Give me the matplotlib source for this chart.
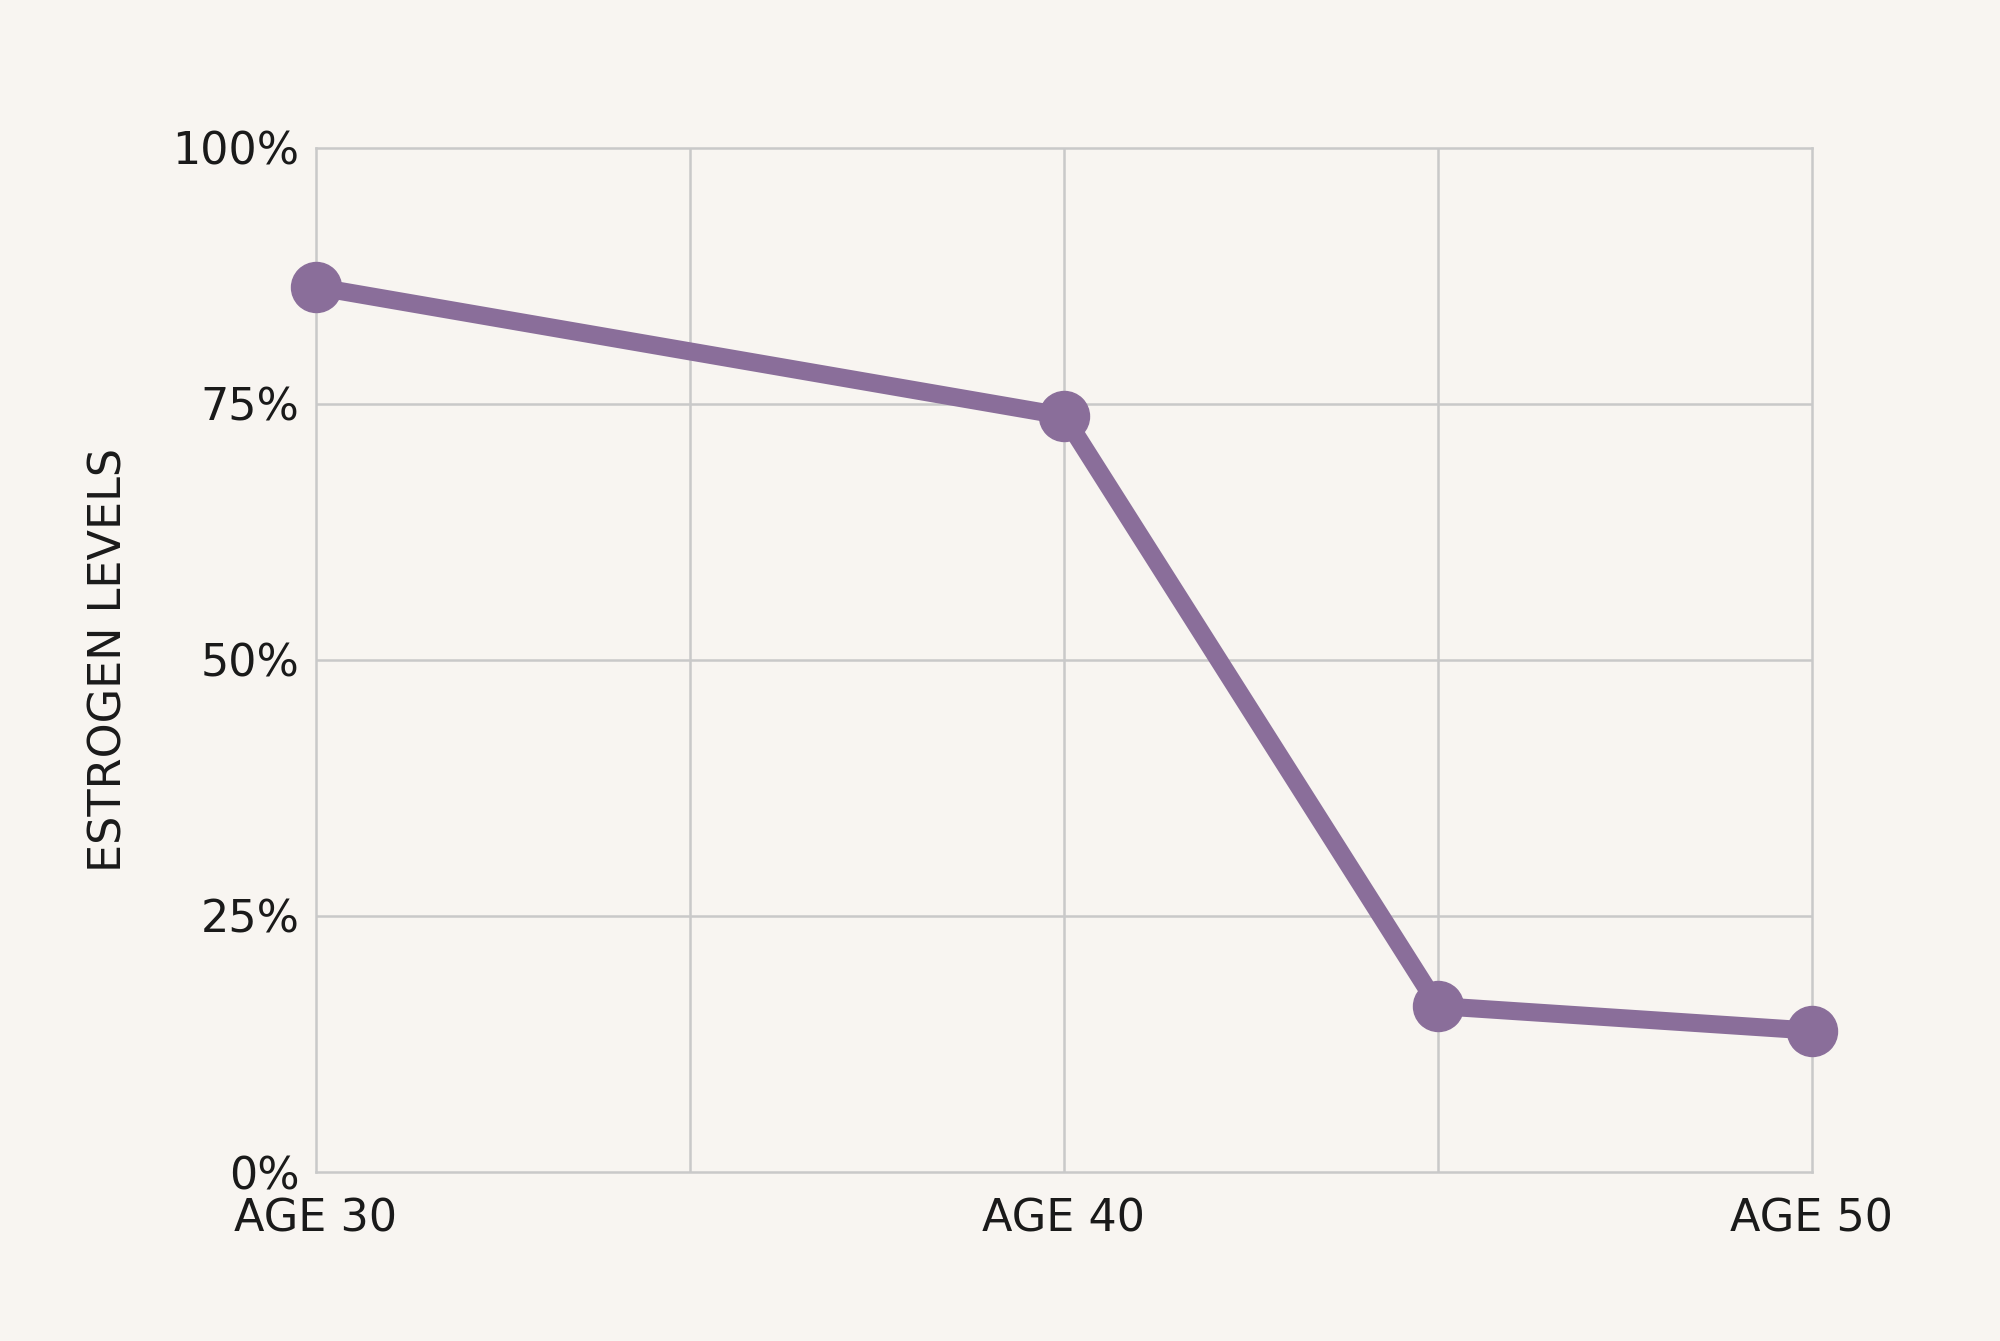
import matplotlib.pyplot as plt

# ---------------- data ----------------
ages = [30, 40, 45, 50]
estrogen = [86.4, 73.8, 16.2, 13.8]
x_ticks = [30, 40, 50]
x_labels = ['AGE 30', 'AGE 40', 'AGE 50']
y_ticks = [0, 25, 50, 75, 100]
y_labels = ['0%', '25%', '50%', '75%', '100%']
grid_x = [35, 40, 45]

bg = '#f8f5f1'
purple = '#8a6e9a'
grid_c = '#c9c9c9'
txt = '#1a1a1a'

fig = plt.figure(figsize=(20, 13.41), dpi=100, facecolor=bg)
ax = fig.add_axes([0.158, 0.126, 0.748, 0.764], facecolor=bg)

ax.plot(ages, estrogen, '-o', color=purple, linewidth=13, markersize=36,
        solid_capstyle='round', zorder=3, clip_on=False)

ax.set_xlim(30, 50)
ax.set_ylim(0, 100)
ax.set_xticks(x_ticks)
ax.set_xticklabels(x_labels, fontsize=32, color=txt)
ax.set_yticks(y_ticks)
ax.set_yticklabels(y_labels, fontsize=32, color=txt)
ax.tick_params(length=0, pad=12)
ax.tick_params(axis='x', pad=18)

for gx in grid_x:
    ax.axvline(gx, color=grid_c, linewidth=1.8, zorder=1)
for gy in y_ticks[1:-1]:
    ax.axhline(gy, color=grid_c, linewidth=1.8, zorder=1)
for s in ax.spines.values():
    s.set_color(grid_c)
    s.set_linewidth(1.8)

ax.set_ylabel('ESTROGEN LEVELS', fontsize=32, color=txt, labelpad=30)

plt.savefig('out.png', dpi=100, facecolor=bg)
